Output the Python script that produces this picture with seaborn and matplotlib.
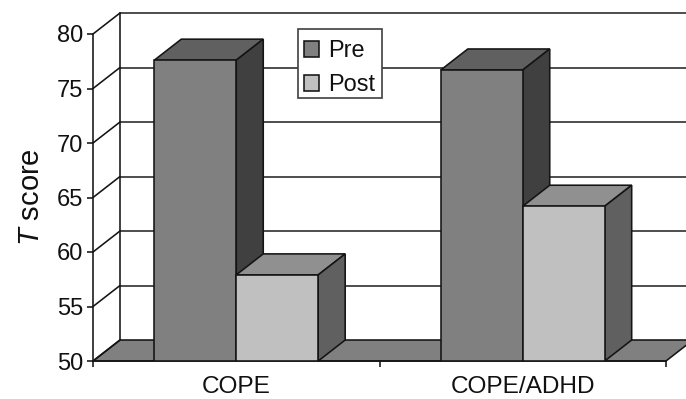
import matplotlib
matplotlib.use('Agg')
import matplotlib.pyplot as plt
from matplotlib.patches import Polygon, Rectangle
import pandas as pd
import seaborn as sns

groups = ['COPE', 'COPE/ADHD']
pre_scores = [77.6, 76.7]
post_scores = [57.9, 64.2]
y_ticks = [50, 55, 60, 65, 70, 75, 80]

df = pd.DataFrame({
    'group': groups * 2,
    'time': ['Pre'] * 2 + ['Post'] * 2,
    'score': pre_scores + post_scores,
})

sns.set_style('white')
plt.rcParams['font.family'] = ['Liberation Sans', 'DejaVu Sans']
plt.rcParams['mathtext.fontset'] = 'custom'
plt.rcParams['mathtext.it'] = 'Liberation Sans:italic'
plt.rcParams['mathtext.rm'] = 'Liberation Sans'

W, H = 686, 399
fig = plt.figure(figsize=(W / 100, H / 100), dpi=100)
ax = fig.add_axes([93 / W, (H - 361) / H, 573 / W, 327 / H])

front_colors = {'Pre': '#808080', 'Post': '#c0c0c0'}
top_colors = {'Pre': '#606060', 'Post': '#909090'}
side_colors = {'Pre': '#404040', 'Post': '#606060'}
edge = '#141414'
lw = 1.15

sns.barplot(data=df, x='group', y='score', hue='time', hue_order=['Pre', 'Post'],
            palette=front_colors, saturation=1, width=0.572, gap=0, dodge=True,
            edgecolor=edge, linewidth=lw, ax=ax, zorder=10)

ax.set_xlim(-0.5, 1.5)
ax.set_ylim(50, 80)

# fake 3d depth, converted from pixels to data units
dx = 27 / (573 / 2)
dy = 21 / (327 / 30)
x0, x1 = ax.get_xlim()

# back wall and floor
ax.add_patch(Polygon([(x0, 50), (x1, 50), (x1 + dx, 50 + dy), (x0 + dx, 50 + dy)],
                     closed=True, facecolor='#808080', edgecolor=edge, linewidth=lw,
                     clip_on=False, zorder=2))
for y in y_ticks:
    if y > 50:
        ax.plot([x0 + dx, x1 + dx], [y + dy, y + dy], color='#262626', lw=lw,
                clip_on=False, zorder=1)
    ax.plot([x0, x0 + dx], [y, y + dy], color=edge, lw=lw, clip_on=False, zorder=3)
ax.plot([x0 + dx, x0 + dx], [50 + dy, 80 + dy], color=edge, lw=lw, clip_on=False, zorder=3)

# top and side faces of each bar
for container, name in zip(ax.containers, ['Pre', 'Post']):
    for bar in container:
        left = bar.get_x()
        right = left + bar.get_width()
        top = bar.get_height()
        order = 10 if name == 'Pre' else 20
        ax.add_patch(Polygon([(left, top), (right, top), (right + dx, top + dy), (left + dx, top + dy)],
                             closed=True, facecolor=top_colors[name], edgecolor=edge,
                             linewidth=lw, clip_on=False, zorder=order))
        ax.add_patch(Polygon([(right, 50), (right + dx, 50 + dy), (right + dx, top + dy), (right, top)],
                             closed=True, facecolor=side_colors[name], edgecolor=edge,
                             linewidth=lw, clip_on=False, zorder=order))
        bar.set_zorder(order + 1)

for side in ['top', 'right']:
    ax.spines[side].set_visible(False)
for side in ['left', 'bottom']:
    ax.spines[side].set_color(edge)
    ax.spines[side].set_linewidth(lw)
    ax.spines[side].set_zorder(30)

ax.set_yticks(y_ticks)
ax.set_xticks([-0.5, 0.5, 1.5])
ax.set_xticklabels([])
ax.set_xticks([0, 1], labels=groups, minor=True)
ax.tick_params(axis='y', which='major', left=True, length=4, width=lw, color=edge,
               labelsize=17, pad=3, labelcolor='#111111')
ax.tick_params(axis='x', which='major', bottom=True, length=4, width=lw, color=edge)
ax.tick_params(axis='x', which='minor', bottom=False, length=0, labelsize=17.6, pad=11,
               labelcolor='#111111')
ax.set_xlabel('')
ax.set_ylabel('$\\mathit{T}$ score', fontsize=21, color='#111111')
ax.yaxis.set_label_coords(-48 / 573, 0.5)

# legend box drawn apart, the entries sit lower in it than matplotlib's padding allows
ax.add_patch(Rectangle((298 / W, (H - 98) / H), 84 / W, 69 / H, transform=fig.transFigure,
                       facecolor='white', edgecolor='#404040', linewidth=1.2,
                       clip_on=False, zorder=39))
handles, labels = ax.get_legend_handles_labels()
leg = ax.legend(handles, labels, loc='upper left',
                bbox_to_anchor=(298 / W, (H - 33) / H), bbox_transform=fig.transFigure,
                frameon=False, fontsize=16.9, borderaxespad=0, borderpad=0.26, labelspacing=0.47,
                handlelength=0.64, handleheight=0.64, handletextpad=0.37)
leg.set_zorder(40)
for text in leg.get_texts():
    text.set_color('#111111')

fig.savefig('out.png', dpi=100)
